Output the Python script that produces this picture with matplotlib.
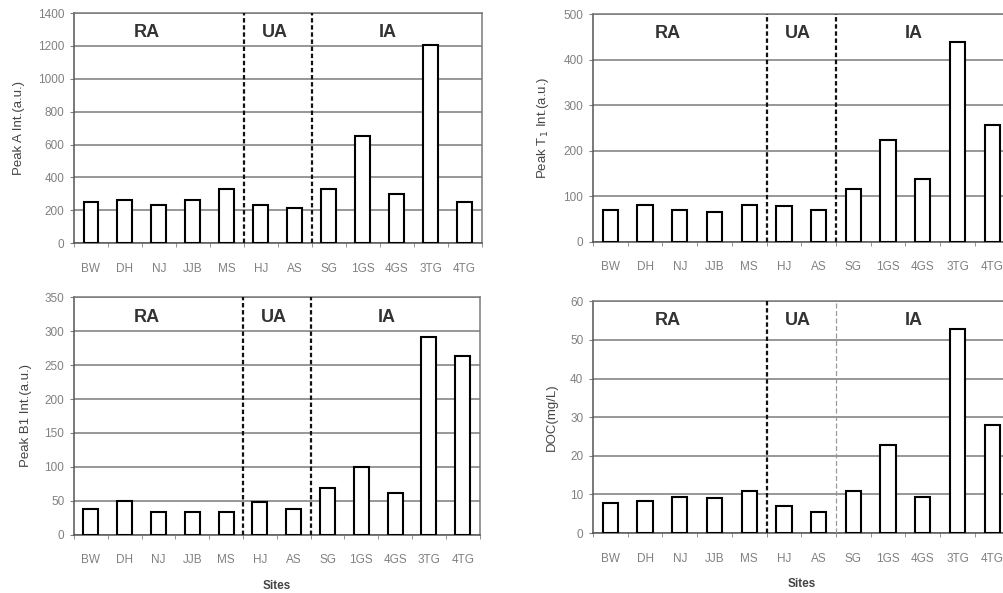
import matplotlib.pyplot as plt
from matplotlib.ticker import FixedLocator

plt.rcParams['font.family'] = ['Liberation Sans', 'DejaVu Sans']

sites = ['BW', 'DH', 'NJ', 'JJB', 'MS', 'HJ', 'AS', 'SG', '1GS', '4GS', '3TG', '4TG']
groups = ['RA', 'UA', 'IA']
group_x = [1.65, 5.4, 8.75]
dividers = [4.5, 6.5]

peak_a = [250, 265, 234, 260, 330, 234, 214, 330, 654, 297, 1204, 250]
peak_t1 = [70, 82, 70, 65, 82, 80, 70, 117, 223, 139, 438, 256]
peak_b1 = [37.5, 50, 34, 34, 34, 48, 37.5, 69, 100, 62, 291, 264]
doc = [7.9, 8.3, 9.3, 9.0, 10.8, 6.9, 5.4, 10.8, 22.8, 9.3, 52.8, 28]

fig = plt.figure(figsize=(10.04, 5.93), dpi=100)

panels = [
    # position, values, ylim, step, ylabel, show "Sites", light second divider
    ([0.0737, 0.590, 0.406, 0.388], peak_a, 1400, 200, 'Peak A Int.(a.u.)', False, False),
    ([0.5906, 0.592, 0.415, 0.384], peak_t1, 500, 100, 'Peak T$_1$ Int.(a.u.)', False, False),
    ([0.0737, 0.098, 0.404, 0.401], peak_b1, 350, 50, 'Peak B1 Int.(a.u.)', True, False),
    ([0.5906, 0.101, 0.415, 0.391], doc, 60, 10, 'DOC(mg/L)', True, True),
]

for pos, vals, ymax, step, ylab, sites_lab, light in panels:
    ax = fig.add_axes(pos)
    x = range(len(sites))
    ax.bar(x, vals, width=0.44, color='white', edgecolor='black', linewidth=1.5, zorder=3)
    ax.set_xlim(-0.5, len(sites) - 0.5)
    ax.set_ylim(0, ymax)
    ax.set_yticks(range(0, ymax + 1, step))
    ax.yaxis.grid(True, color='#7a7a7a', linewidth=1.1, zorder=0)
    ax.set_xticks(list(x))
    ax.set_xticklabels(sites)
    ax.xaxis.set_minor_locator(FixedLocator([i + 0.5 for i in range(-1, len(sites))]))
    ax.tick_params(axis='x', which='major', length=0, pad=14, labelsize=8.5, labelcolor='#808080')
    ax.tick_params(axis='x', which='minor', length=3, color='#808080', direction='out')
    ax.tick_params(axis='y', length=3, color='#808080', labelsize=8.5, labelcolor='#808080', pad=4)
    for s in ax.spines.values():
        s.set_color('#7a7a7a')
        s.set_linewidth(1.1)
    ax.spines['bottom'].set_color('#555555')
    ax.spines['left'].set_color('#555555')
    ax.set_ylabel(ylab, fontsize=9.5, color='#444444', labelpad=9)
    for i, d in enumerate(dividers):
        if light and i == 1:
            ax.axvline(d, color='#999999', linestyle=(0, (4, 2)), linewidth=0.9, zorder=4)
        else:
            ax.axvline(d, color='#111111', linestyle=(0, (2, 1.2)), linewidth=1.6, zorder=4)
    for g, gx in zip(groups, group_x):
        ax.text(gx, 0.915, g, transform=ax.get_xaxis_transform(), ha='center', va='center',
                fontsize=13, fontweight='bold', color='#333333')
    if sites_lab:
        ax.set_xlabel('Sites', fontsize=8.5, fontweight='bold', color='#444444', labelpad=10)

fig.savefig('out.png', dpi=100)
